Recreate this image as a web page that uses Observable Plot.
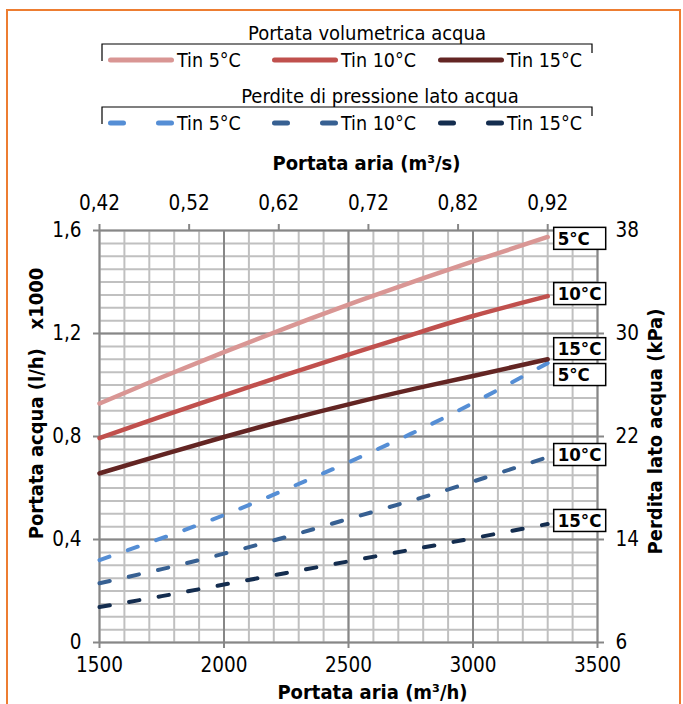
<!DOCTYPE html>
<html><head><meta charset="utf-8">
<script src="https://cdn.jsdelivr.net/npm/d3@7"></script>
<script src="https://cdn.jsdelivr.net/npm/@observablehq/plot@0.6"></script>
<style>
body{margin:0;background:#fff;font-family:"Liberation Sans Narrow","DejaVu Sans Condensed","Liberation Sans",sans-serif;}
#wrap{position:relative;width:683px;height:704px;overflow:hidden;background:#fff;}
#frame{position:absolute;left:6px;top:9px;width:675px;height:740px;border:2.5px solid #ED7D31;box-sizing:border-box;pointer-events:none;}
#legend{height:140px;}
#legend svg, #chart svg{display:block;}
</style></head>
<body><div id="wrap"><div id="legend"></div><div id="chart"></div><div id="frame"></div></div>
<script>
// ---- data ----
const airFlow = [1500, 1750, 2000, 2250, 2500, 2750, 3000, 3300]; // m3/h
const portata5  = [0.928, 1.030, 1.128, 1.222, 1.312, 1.398, 1.480, 1.575]; // l/h x1000
const portata10 = [0.794, 0.878, 0.960, 1.040, 1.118, 1.194, 1.268, 1.345];
const portata15 = [0.657, 0.729, 0.798, 0.864, 0.925, 0.982, 1.035, 1.100];
const perdita5  = [12.4, 14.1, 15.9, 17.9, 20.0, 22.2, 24.6, 27.7]; // kPa
const perdita10 = [10.6, 11.7, 12.9, 14.2, 15.6, 17.0, 18.5, 20.4];
const perdita15 = [8.75, 9.6, 10.5, 11.4, 12.3, 13.2, 14.1, 15.2];
const seriesNames = ["Tin 5°C", "Tin 10°C", "Tin 15°C"];
const endTags = ["5°C", "10°C", "15°C"];
const xTicks = [1500, 2000, 2500, 3000, 3500];
const topTicks = [1500, 1860, 2220, 2580, 2940, 3300]; // positions of 0,42 ... 0,92 m3/s
const yTicks = [0, 0.4, 0.8, 1.2, 1.6];
const rightTicks = [6, 14, 22, 30, 38];

const FONT = '"Liberation Sans Narrow","DejaVu Sans Condensed","Liberation Sans",sans-serif';
const flowColors = ["#D99694", "#C0504D", "#632523"];
const lossColors = ["#558ED5", "#376092", "#142D4F"];
const toLeft = k => (k - 6) / 20;

const flowSeries = [portata5, portata10, portata15];
const lossSeries = [perdita5, perdita10, perdita15];

// ---- legend ----
(function legend(){
  const svg = d3.select("#legend").append("svg").attr("width", 683).attr("height", 140)
    .style("font-family", FONT);
  const groups = [
    {title: "Portata volumetrica acqua", ty: 33, by: 44, ry: 60, colors: flowColors, dashed: false, tx: 367},
    {title: "Perdite di pressione lato acqua", ty: 96, by: 107, ry: 123, colors: lossColors, dashed: true, tx: 380}
  ];
  const sx = [108, 272, 438];
  groups.forEach(g => {
    svg.append("text").attr("x", g.tx).attr("y", g.ty).attr("text-anchor", "middle")
      .attr("dominant-baseline", "central").attr("font-size", 20).text(g.title);
    svg.append("path").attr("d", `M102,${g.by+17}V${g.by}H592V${g.by+9}`)
      .attr("fill", "none").attr("stroke", "#000").attr("stroke-width", 1.2);
    seriesNames.forEach((name, i) => {
      const ln = svg.append("line").attr("y1", g.ry).attr("y2", g.ry)
        .attr("stroke", g.colors[i]).attr("stroke-width", 5).attr("stroke-linecap", "round")
        .attr("x1", sx[i] + 2.5).attr("x2", sx[i] + 63.5);
      if (g.dashed) ln.attr("stroke-dasharray", "13,35");
      svg.append("text").attr("x", sx[i] + 69).attr("y", g.ry).attr("dominant-baseline", "central")
        .attr("font-size", 19.5).text(name);
    });
  });
})();

// ---- chart ----
const rowsOf = vals => airFlow.map((x, i) => ({x, v: vals[i]}));
const minorX = d3.range(1500, 3501, 100);
const minorY = d3.range(0, 33).map(i => i * 0.05);
const fmtComma = d => d === 0 ? "0" : d.toFixed(1).replace(".", ",");

const labelOffsets = {flow: [2, -2, -10], loss: [12, -2, -3]};
const axisStyle = {stroke: "#878787", strokeWidth: 2, fill: "#000", fontSize: 20.5, label: null};

const marks = [
  Plot.ruleX(minorX, {stroke: "#C0C0C0", strokeWidth: 2}),
  Plot.ruleY(minorY, {stroke: "#C0C0C0", strokeWidth: 2}),
  Plot.ruleX(xTicks, {stroke: "#878787", strokeWidth: 2}),
  Plot.ruleY(yTicks, {stroke: "#878787", strokeWidth: 2}),
  Plot.axisX(xTicks, {...axisStyle, anchor: "bottom", tickSize: 6, tickPadding: 9, tickFormat: d => String(d)}),
  Plot.axisX(topTicks, {...axisStyle, anchor: "top", tickSize: 7, tickPadding: 14, tickFormat: d => (d / 3600).toFixed(2).replace(".", ",")}),
  Plot.axisY(yTicks, {...axisStyle, anchor: "left", tickSize: 6, tickPadding: 12, tickFormat: fmtComma}),
  Plot.axisY(rightTicks.map(toLeft), {...axisStyle, anchor: "right", tickSize: 6, tickPadding: 12, tickFormat: v => String(Math.round(6 + v * 20))}),
];
lossSeries.forEach((vals, i) => {
  marks.push(Plot.line(rowsOf(vals), {x: "x", y: d => toLeft(d.v), stroke: lossColors[i], strokeWidth: 4, strokeDasharray: "10.5,19.5", strokeLinecap: "round", curve: "natural"}));
});
flowSeries.forEach((vals, i) => {
  marks.push(Plot.line(rowsOf(vals), {x: "x", y: "v", stroke: flowColors[i], strokeWidth: 4.5, strokeLinecap: "round", curve: "natural"}));
});
flowSeries.forEach((vals, i) => {
  const last = vals.length - 1;
  marks.push(Plot.text([{x: airFlow[last], v: vals[last], t: endTags[i]}], {x: "x", y: "v", text: "t", dx: 10, dy: labelOffsets.flow[i], textAnchor: "start", fontWeight: "bold", fontSize: 18.5, fill: "#000"}));
});
lossSeries.forEach((vals, i) => {
  const last = vals.length - 1;
  marks.push(Plot.text([{x: airFlow[last], v: toLeft(vals[last]), t: endTags[i]}], {x: "x", y: "v", text: "t", dx: 10, dy: labelOffsets.loss[i], textAnchor: "start", fontWeight: "bold", fontSize: 18.5, fill: "#000"}));
});
const titleStyle = {text: d => d, fontWeight: "bold", fontSize: 20, lineAnchor: "middle", textAnchor: "middle", fill: "#000"};
marks.push(
  Plot.text(["Portata aria (m³/h)"], {...titleStyle, frameAnchor: "bottom", dx: 24, dy: 50}),
  Plot.text(["Portata aria (m³/s)"], {...titleStyle, frameAnchor: "top", dx: 18, dy: -67}),
  Plot.text(["Portata acqua (l/h)\u00a0\u00a0\u00a0x1000"], {...titleStyle, frameAnchor: "left", rotate: -90, dx: -63, dy: -33}),
  Plot.text(["Perdita lato acqua (kPa)"], {...titleStyle, frameAnchor: "right", rotate: -90, dx: 58, dy: -5})
);

const chart = Plot.plot({
  width: 683, height: 564,
  marginLeft: 99, marginRight: 86, marginTop: 90, marginBottom: 62,
  x: {domain: [1500, 3500], axis: null},
  y: {domain: [0, 1.6], axis: null},
  style: {fontFamily: FONT, fontSize: "20px", color: "#000", background: "#fff", overflow: "visible"},
  marks
});
document.getElementById("chart").appendChild(chart);

// boxes behind the end labels
const tagSet = new Set(endTags);
Array.from(chart.querySelectorAll("text")).filter(t => tagSet.has(t.textContent.trim())).forEach(t => {
  const b = t.getBBox();
  const r = document.createElementNS("http://www.w3.org/2000/svg", "rect");
  r.setAttribute("x", b.x - 4);
  r.setAttribute("y", b.y + b.height / 2 - 11);
  r.setAttribute("width", Math.max(52, b.width + 8));
  r.setAttribute("height", 22);
  r.setAttribute("fill", "#fff");
  r.setAttribute("stroke", "#000");
  r.setAttribute("stroke-width", 1.5);
  if (t.getAttribute("transform")) r.setAttribute("transform", t.getAttribute("transform"));
  t.parentNode.insertBefore(r, t);
});
</script></body></html>
